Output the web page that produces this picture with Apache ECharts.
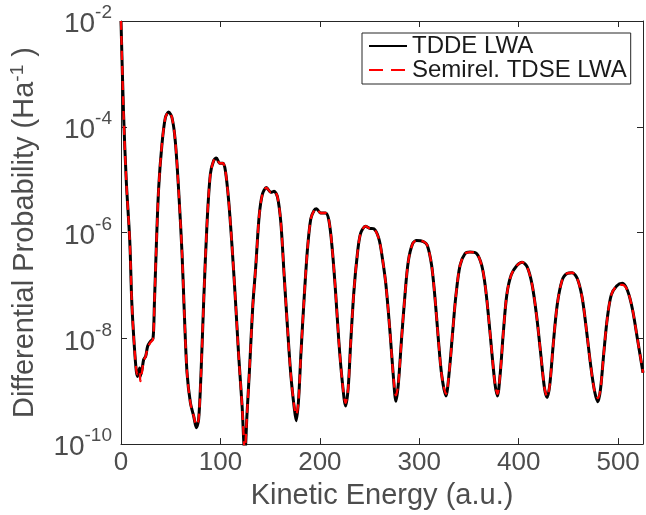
<!DOCTYPE html>
<html>
<head>
<meta charset="utf-8">
<title>Differential Probability</title>
<script src="https://cdn.jsdelivr.net/npm/echarts@6/dist/echarts.min.js"></script>
<style>
  html, body { margin: 0; padding: 0; background: #fff; }
  #chart { width: 646px; height: 515px; }
</style>
</head>
<body>
<div id="chart"></div>
<script>
// kinetic energy (a.u.)
var energy = [
  0, 2.6, 5.3, 8.8, 10.9, 13.4, 15.4, 16.7, 18.7, 19.4, 21.4, 22.8, 24.8, 26.8, 29.5, 32.2, 33.5,
  35.5, 37.9, 41.2, 44.6, 47.9, 51.3, 54.6, 58.0, 61.4, 63.7, 66.4, 69.8, 73.1, 75.8, 78.1, 80.5,
  83.2, 86.5, 89.9, 93.2, 95.9, 99.3, 102.6, 105.0, 108.3, 111.7, 115.1, 118.4, 121.8, 124.5, 126.8, 129.5,
  132.5, 135.6, 139.0, 142.3, 146.3, 150.7, 154.0, 157.4, 160.7, 164.1, 167.5, 170.8, 174.2, 176.2, 178.5,
  180.9, 184.2, 187.6, 190.9, 194.3, 196.6, 200.7, 205.7, 209.1, 212.4, 215.8, 219.1, 222.5, 225.9, 228.5,
  230.9, 234.2, 237.6, 240.9, 246.0, 250.0, 254.3, 259.4, 263.0, 266.5, 270.5, 273.8, 276.5,
  278.9, 282.2, 285.6, 288.9, 293.3, 297.3, 304.1, 308.0, 312.4, 315.8, 319.1, 322.5, 326.8,
  330.2, 333.6, 336.9, 341.0, 346.0, 351.0, 357.8, 362.8, 366.2, 369.5, 372.9, 376.2, 378.6,
  381.3, 384.6, 388.0, 392.5, 398.4, 403.4, 408.5, 413.5, 417.9, 421.9, 425.9, 428.6,
  431.3, 434.7, 438.7, 443.7, 448.8, 453.8, 458.9, 463.9, 468.3, 472.3, 476.3, 479.7,
  482.4, 485.7, 489.1, 493.1, 498.5, 504.2, 509.3, 514.3, 519.3, 525
];

// log10 of the differential probability (Ha^-1)
var tddeLog = [
  -2.0, -3.77, -5.02, -6.15, -7.34, -8.15, -8.62, -8.72, -8.56, -8.72, -8.56, -8.40, -8.34, -8.15, -8.06, -8.00, -7.40,
  -6.27, -5.15, -4.33, -3.83, -3.72, -3.83, -4.27, -5.21, -6.40, -7.53, -8.65, -9.22, -9.47, -9.69, -9.53, -8.65,
  -7.28, -5.83, -4.89, -4.64, -4.59, -4.69, -4.69, -4.83, -5.40, -6.27, -7.28, -8.34, -9.28, -10.2, -9.41, -8.5,
  -7.4, -6.62, -5.68, -5.27, -5.15, -5.24, -5.22, -5.33, -5.80, -6.81, -7.81, -8.69, -9.31, -9.56, -9.19,
  -8.31, -7.24, -6.30, -5.74, -5.58, -5.55, -5.63, -5.63, -5.77, -6.30, -7.12, -8.06, -8.81, -9.28, -8.94,
  -8.12, -7.12, -6.43, -6.02, -5.88, -5.92, -5.93, -6.12, -6.50, -7.00, -7.87, -8.69, -9.19,
  -8.87, -8.00, -7.18, -6.55, -6.21, -6.15, -6.17, -6.24, -6.62, -7.24, -8.00, -8.69, -9.09,
  -8.62, -7.87, -7.18, -6.62, -6.40, -6.37, -6.40, -6.62, -6.99, -7.56, -8.25, -8.87, -9.09,
  -8.69, -7.87, -7.18, -6.80, -6.62, -6.56, -6.65, -6.99, -7.56, -8.25, -8.94, -9.12,
  -8.87, -8.12, -7.37, -6.90, -6.77, -6.76, -6.87, -7.24, -7.87, -8.50, -9.00, -9.20,
  -8.94, -8.25, -7.62, -7.18, -7.01, -6.96, -7.09, -7.44, -8.00, -8.65
];

var semirelLog = [
  -2.0, -3.77, -5.02, -6.15, -7.34, -8.15, -8.60, -8.68, -8.62, -8.81, -8.60, -8.42, -8.34, -8.18, -8.08, -8.02, -7.40,
  -6.27, -5.15, -4.33, -3.83, -3.72, -3.83, -4.27, -5.21, -6.40, -7.53, -8.65, -9.22, -9.47, -9.64, -9.53, -8.65,
  -7.28, -5.83, -4.89, -4.64, -4.59, -4.69, -4.69, -4.83, -5.40, -6.27, -7.28, -8.34, -9.28, -10.1, -9.41, -8.5,
  -7.4, -6.62, -5.68, -5.27, -5.15, -5.24, -5.22, -5.33, -5.80, -6.81, -7.81, -8.69, -9.28, -9.45, -9.19,
  -8.31, -7.24, -6.30, -5.74, -5.58, -5.55, -5.63, -5.63, -5.77, -6.30, -7.12, -8.06, -8.81, -9.22, -8.94,
  -8.12, -7.12, -6.43, -6.02, -5.88, -5.92, -5.93, -6.12, -6.50, -7.00, -7.87, -8.69, -9.08,
  -8.87, -8.00, -7.18, -6.55, -6.21, -6.15, -6.17, -6.24, -6.62, -7.24, -8.00, -8.69, -9.05,
  -8.62, -7.87, -7.18, -6.62, -6.40, -6.37, -6.40, -6.62, -6.99, -7.56, -8.25, -8.87, -9.05,
  -8.69, -7.87, -7.18, -6.80, -6.62, -6.56, -6.65, -6.99, -7.56, -8.25, -8.94, -9.10,
  -8.87, -8.12, -7.37, -6.90, -6.77, -6.76, -6.87, -7.24, -7.87, -8.50, -9.00, -9.13,
  -8.94, -8.25, -7.62, -7.18, -7.01, -6.99, -7.09, -7.44, -8.00, -8.65
];

var seriesNames = ['TDDE LWA', 'Semirel. TDSE LWA'];

var font = "'Liberation Sans', Arial, Helvetica, sans-serif";
var axisColor = '#262626';
var textColor = '#4d4d4d';

function toPairs(logs) {
  return energy.map(function (e, i) { return [e, Math.pow(10, logs[i])]; });
}

var chart = echarts.init(document.getElementById('chart'), null, { renderer: 'canvas' });

var boxAxisLine = { show: true, onZero: false, lineStyle: { color: axisColor, width: 1 } };
var inTick = { show: true, inside: true, length: 6, lineStyle: { color: axisColor, width: 1 } };

var option = {
  animation: false,
  backgroundColor: '#fff',
  textStyle: { fontFamily: font },
  grid: { left: 121, top: 21, right: 3, bottom: 68, containLabel: false },
  legend: {
    data: [
      { name: seriesNames[0] },
      { name: seriesNames[1], lineStyle: { type: [14, 8] } }
    ],
    orient: 'vertical',
    left: 362,
    top: 33,
    padding: [1, 4, 2, 6],
    itemGap: 0,
    itemWidth: 38,
    itemHeight: 14,
    itemStyle: { opacity: 0 },
    backgroundColor: '#fff',
    borderColor: axisColor,
    borderWidth: 1,
    borderRadius: 0,
    textStyle: { fontSize: 24, color: '#1a1a1a', fontFamily: font, padding: [0, 0, 0, 0] }
  },
  xAxis: [{
    type: 'value',
    min: 0,
    max: 525,
    interval: 100,
    name: 'Kinetic Energy (a.u.)',
    nameLocation: 'middle',
    nameGap: 32,
    nameTextStyle: { fontSize: 29, color: textColor, fontFamily: font },
    axisLine: boxAxisLine,
    axisTick: inTick,
    axisLabel: { fontSize: 26, color: textColor, margin: 6, showMaxLabel: false, fontFamily: font },
    splitLine: { show: false }
  }, {
    type: 'value',
    position: 'top',
    min: 0,
    max: 525,
    interval: 100,
    axisLine: boxAxisLine,
    axisTick: inTick,
    axisLabel: { show: false },
    splitLine: { show: false }
  }],
  yAxis: [{
    type: 'log',
    logBase: 10,
    min: 1e-10,
    max: 1e-2,
    interval: 2,
    name: '{t|Differential Probability (Ha}{s|-1}{t| )}',
    nameLocation: 'middle',
    nameGap: 80,
    nameRotate: 90,
    nameTextStyle: {
      color: textColor,
      rich: {
        t: { fontSize: 29, color: textColor, fontFamily: font },
        s: { fontSize: 19, color: textColor, fontFamily: font, verticalAlign: 'top', padding: [0, 0, 14, 0] }
      }
    },
    axisLine: boxAxisLine,
    axisTick: inTick,
    axisLabel: {
      margin: 9,
      formatter: function (v) {
        var p = Math.round(Math.log(v) / Math.LN10);
        return '{b|10}{s|' + p + '}';
      },
      rich: {
        b: { fontSize: 28, color: textColor, fontFamily: font, padding: [7, 0, 0, 0] },
        s: { fontSize: 19, color: textColor, fontFamily: font, verticalAlign: 'top' }
      }
    },
    splitLine: { show: false }
  }, {
    type: 'log',
    logBase: 10,
    position: 'right',
    min: 1e-10,
    max: 1e-2,
    interval: 2,
    axisLine: boxAxisLine,
    axisTick: inTick,
    axisLabel: { show: false },
    splitLine: { show: false }
  }],
  series: [{
    name: seriesNames[0],
    type: 'line',
    data: toPairs(tddeLog),
    showSymbol: false,
    symbol: 'none',
    smooth: 0.3,
    lineStyle: { color: '#000', width: 3 },
    itemStyle: { color: '#000' },
    z: 2
  }, {
    name: seriesNames[1],
    type: 'line',
    data: toPairs(semirelLog),
    showSymbol: false,
    symbol: 'none',
    smooth: 0.3,
    lineStyle: { color: '#ff0000', width: 2.3, type: [9, 6] },
    itemStyle: { color: '#ff0000' },
    z: 3
  }]
};

chart.setOption(option);
</script>
</body>
</html>
